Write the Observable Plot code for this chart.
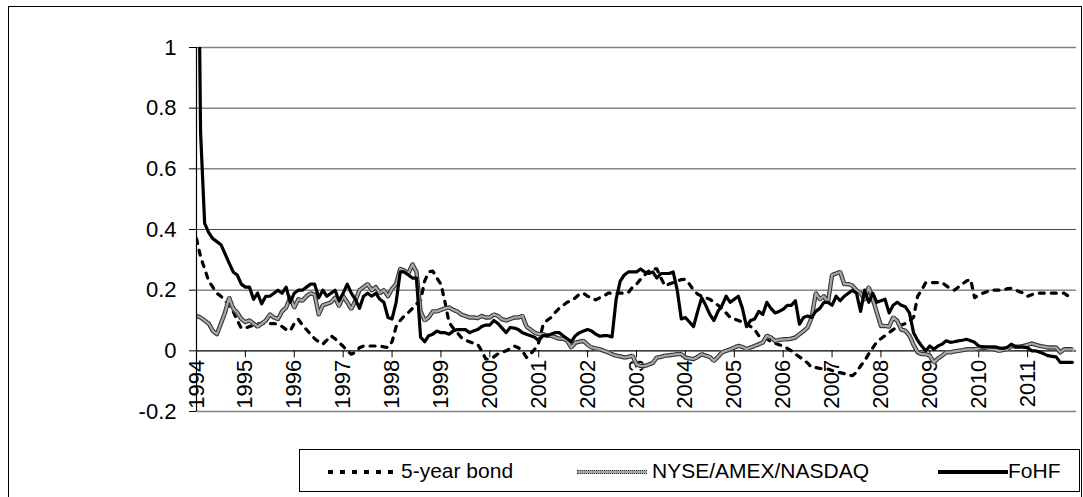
<!DOCTYPE html>
<html>
<head>
<meta charset="utf-8">
<script src="https://cdn.jsdelivr.net/npm/d3@7"></script>
<script src="https://cdn.jsdelivr.net/npm/@observablehq/plot@0.6"></script>
<style>
  html, body { margin: 0; padding: 0; background: #fff; }
  #root { position: relative; width: 1083px; height: 497px; overflow: hidden; font-family: "Liberation Sans", Arial, sans-serif; }
  #chart { position: absolute; left: 0; top: 0; }
  #frame { position: absolute; left: 8px; top: 6px; width: 1074px; height: 520px; border: 1.5px solid #000; box-sizing: border-box; pointer-events: none; }
  #legend { position: absolute; left: 299px; top: 449px; width: 781px; height: 43px; border: 1px solid #000; box-sizing: border-box; background: #fff; }
  .sw { position: absolute; top: 20px; height: 3.5px; box-sizing: border-box; }
  .lt { position: absolute; top: 9px; font-size: 21px; line-height: 24px; color: #000; white-space: nowrap; }
</style>
</head>
<body>
<div id="root">
  <div id="chart"></div>
  <div id="frame"></div>
  <div id="legend"></div>
</div>
<script>
// Years shown on the category axis (one tick every 12 monthly categories)
const yearLabels = [1994,1995,1996,1997,1998,1999,2000,2001,2002,2003,2004,2005,2006,2007,2008,2009,2010,2011];
const yTickValues = [-0.2, 0, 0.2, 0.4, 0.6, 0.8, 1];
const seriesNames = ["5-year bond", "NYSE/AMEX/NASDAQ", "FoHF"];

// Monthly values, Jan 1994 - Dec 2011 (one row per year)
const bond = [
  0.37,0.31,0.27,0.23,0.21,0.19,0.18,0.165,0.15,0.13,0.10,0.075,
  0.075,0.08,0.085,0.09,0.09,0.09,0.09,0.09,0.088,0.08,0.07,0.066,
  0.09,0.104,0.085,0.07,0.055,0.04,0.03,0.022,0.035,0.05,0.04,0.027,
  0.015,0.0,-0.011,-0.005,0.01,0.016,0.016,0.016,0.016,0.016,0.013,0.011,
  0.03,0.08,0.1,0.115,0.126,0.14,0.155,0.165,0.23,0.26,0.263,0.24,
  0.22,0.16,0.093,0.075,0.06,0.044,0.035,0.03,0.025,0.022,0.0,-0.027,
  -0.027,-0.02,-0.01,-0.005,0.0,0.008,0.016,0.01,0.0,-0.022,-0.01,0.005,
  0.027,0.082,0.1,0.11,0.126,0.14,0.15,0.16,0.165,0.175,0.187,0.19,
  0.18,0.175,0.168,0.175,0.18,0.19,0.19,0.19,0.19,0.19,0.192,0.21,
  0.22,0.236,0.25,0.263,0.27,0.27,0.24,0.214,0.22,0.225,0.23,0.235,
  0.236,0.22,0.2,0.187,0.18,0.175,0.17,0.16,0.15,0.14,0.125,0.11,
  0.105,0.1,0.095,0.088,0.08,0.07,0.05,0.045,0.04,0.03,0.025,0.02,
  0.016,0.008,0.0,-0.011,-0.02,-0.03,-0.04,-0.055,-0.055,-0.058,-0.06,-0.06,
  -0.065,-0.07,-0.072,-0.075,-0.08,-0.082,-0.07,-0.05,-0.033,-0.01,0.01,0.03,
  0.04,0.05,0.06,0.07,0.08,0.085,0.09,0.1,0.11,0.18,0.2,0.225,
  0.225,0.225,0.225,0.225,0.215,0.205,0.2,0.21,0.22,0.23,0.236,0.175,
  0.185,0.19,0.195,0.2,0.2,0.2,0.2,0.205,0.206,0.2,0.195,0.19,
  0.18,0.185,0.19,0.19,0.19,0.19,0.19,0.19,0.19,0.19,0.18,0.17
];
const nyse = [
  0.115,0.11,0.10,0.09,0.066,0.055,0.09,0.126,0.175,0.14,0.126,0.105,
  0.095,0.10,0.09,0.08,0.09,0.10,0.12,0.11,0.105,0.13,0.143,0.175,
  0.143,0.17,0.165,0.18,0.19,0.185,0.12,0.15,0.155,0.16,0.175,0.148,
  0.18,0.16,0.138,0.165,0.2,0.21,0.22,0.2,0.21,0.19,0.2,0.18,
  0.205,0.22,0.27,0.265,0.255,0.285,0.26,0.13,0.1,0.11,0.13,0.13,
  0.135,0.14,0.143,0.135,0.13,0.12,0.115,0.11,0.11,0.108,0.115,0.11,
  0.11,0.12,0.115,0.104,0.10,0.105,0.11,0.11,0.115,0.08,0.07,0.06,
  0.055,0.055,0.05,0.05,0.045,0.04,0.04,0.033,0.011,0.027,0.03,0.033,
  0.02,0.011,0.008,0.005,0.0,-0.005,-0.011,-0.016,-0.018,-0.022,-0.02,-0.016,
  -0.044,-0.05,-0.05,-0.045,-0.04,-0.022,-0.02,-0.016,-0.015,-0.013,-0.011,-0.011,
  -0.022,-0.025,-0.027,-0.02,-0.011,-0.016,-0.02,-0.033,-0.02,-0.005,0.0,0.005,
  0.011,0.016,0.013,0.005,0.011,0.016,0.022,0.027,0.05,0.044,0.033,0.036,
  0.038,0.038,0.04,0.044,0.055,0.065,0.077,0.11,0.19,0.17,0.18,0.16,
  0.25,0.255,0.26,0.22,0.22,0.215,0.2,0.19,0.17,0.21,0.17,0.126,
  0.082,0.082,0.08,0.11,0.099,0.07,0.066,0.05,0.02,-0.005,-0.011,-0.011,
  -0.016,-0.038,-0.025,-0.016,-0.005,-0.005,-0.002,0.0,0.002,0.005,0.005,0.005,
  0.008,0.011,0.008,0.005,0.004,0.0,0.003,0.005,0.016,0.014,0.014,0.016,
  0.02,0.024,0.02,0.016,0.014,0.011,0.011,0.011,-0.005,0.005,0.005,0.005
];
const fohf = [
  2.0,0.72,0.42,0.39,0.37,0.36,0.35,0.32,0.29,0.26,0.25,0.22,
  0.21,0.21,0.17,0.19,0.155,0.18,0.18,0.19,0.20,0.19,0.21,0.16,
  0.19,0.20,0.20,0.21,0.22,0.22,0.175,0.20,0.18,0.19,0.20,0.165,
  0.19,0.22,0.19,0.17,0.14,0.18,0.19,0.18,0.19,0.17,0.16,0.11,
  0.105,0.16,0.26,0.26,0.25,0.24,0.24,0.045,0.03,0.05,0.055,0.065,
  0.06,0.06,0.055,0.065,0.07,0.07,0.07,0.06,0.065,0.07,0.08,0.085,
  0.085,0.10,0.09,0.075,0.06,0.077,0.075,0.07,0.06,0.055,0.05,0.045,
  0.033,0.05,0.05,0.055,0.06,0.06,0.05,0.04,0.03,0.05,0.06,0.065,
  0.07,0.065,0.055,0.048,0.05,0.05,0.046,0.17,0.23,0.25,0.26,0.26,
  0.26,0.27,0.26,0.255,0.26,0.24,0.255,0.255,0.255,0.26,0.20,0.105,
  0.11,0.095,0.08,0.13,0.175,0.15,0.12,0.10,0.13,0.15,0.18,0.16,
  0.17,0.18,0.14,0.08,0.10,0.105,0.13,0.12,0.16,0.14,0.125,0.13,
  0.137,0.15,0.15,0.165,0.088,0.11,0.115,0.11,0.13,0.14,0.16,0.16,
  0.15,0.18,0.165,0.18,0.19,0.20,0.19,0.13,0.20,0.16,0.19,0.16,
  0.165,0.17,0.125,0.15,0.16,0.15,0.145,0.125,0.06,0.035,0.016,0.0,
  0.016,0.005,0.016,0.022,0.033,0.028,0.03,0.033,0.035,0.038,0.033,0.028,
  0.016,0.013,0.013,0.013,0.013,0.01,0.008,0.012,0.022,0.013,0.013,0.012,
  0.01,0.0,0.0,-0.005,-0.01,-0.016,-0.018,-0.02,-0.038,-0.038,-0.038,-0.038
];

const rows = arr => arr.map((v, i) => ({i, v}));
const tickIndex = yearLabels.map((y, k) => k * 12);
const yPerPx = 1.2 / 364;

const chart = Plot.plot({
  width: 1083,
  height: 440,
  marginLeft: 196,
  marginRight: 7,
  marginTop: 47,
  marginBottom: 29,
  style: {fontFamily: "'Liberation Sans', Arial, sans-serif", fontSize: "22px", background: "transparent", overflow: "visible", color: "#000"},
  x: {domain: [0, 216], axis: null},
  y: {domain: [-0.2, 1], ticks: yTickValues, tickSize: 7, tickPadding: 13, tickFormat: d => String(d), label: null},
  marks: [
    Plot.ruleY([0.2, 0.4, 0.6, 0.8], {stroke: "#4a4a4a", strokeWidth: 1}),
    Plot.ruleY([1, -0.2], {stroke: "#808080", strokeWidth: 1.5}),
    Plot.ruleY([0], {stroke: "#000", strokeWidth: 1.2}),
    Plot.ruleX(tickIndex, {y1: 0, y2: -7 * yPerPx, stroke: "#000", strokeWidth: 1}),
    Plot.text(yearLabels, {x: (d, k) => tickIndex[k], y: d => 0, text: d => String(d), rotate: -90, textAnchor: "end", lineAnchor: "middle", dy: 9, fontSize: 22, fill: "#000"}),
    Plot.line(rows(bond), {x: "i", y: "v", stroke: "#000", strokeWidth: 3.2, strokeDasharray: "5,7", clip: true}),
    // textured grey line: light base, dark speckles, grey core
    Plot.line(rows(nyse), {x: "i", y: "v", stroke: "#d4d4d4", strokeWidth: 4.4, clip: true}),
    Plot.line(rows(nyse), {x: "i", y: "v", stroke: "#333", strokeWidth: 4.4, strokeDasharray: "1,1.8", clip: true}),
    Plot.line(rows(nyse), {x: "i", y: "v", stroke: "#a8a8a8", strokeWidth: 2.2, clip: true}),
    Plot.line(rows(fohf), {x: "i", y: "v", stroke: "#000", strokeWidth: 3.2, clip: true}),
    Plot.ruleX([0], {y1: -0.2, y2: 1, stroke: "#000", strokeWidth: 1.2})
  ]
});

document.getElementById("chart").appendChild(chart);

// legend
const legend = document.getElementById("legend");
const swatches = [
  {left: 28, width: 70, css: "background: repeating-linear-gradient(to right, #000 0 5px, transparent 5px 12px);"},
  {left: 277, width: 70, css: "height:4.5px; top:19.5px; background:#a8a8a8; border-top:1.2px dotted #333; border-bottom:1.2px dotted #333;"},
  {left: 638, width: 70, css: "background: #000;"}
];
const textLeft = [101, 352, 708];
seriesNames.forEach((name, k) => {
  const s = document.createElement("div");
  s.className = "sw";
  s.style.cssText = `left:${swatches[k].left}px;width:${swatches[k].width}px;` + swatches[k].css;
  legend.appendChild(s);
  const t = document.createElement("div");
  t.className = "lt";
  t.style.left = textLeft[k] + "px";
  t.textContent = name;
  legend.appendChild(t);
});
</script>
</body>
</html>
